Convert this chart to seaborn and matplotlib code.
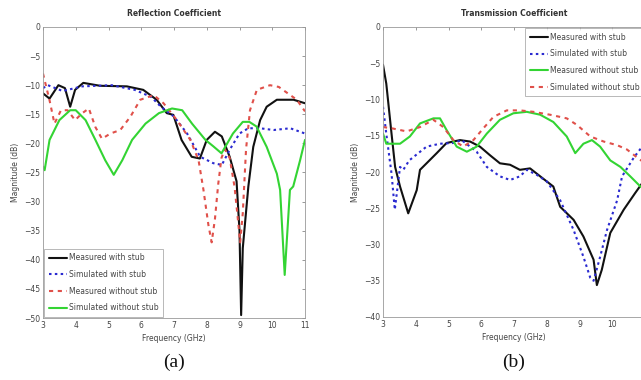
import numpy as np
import pandas as pd
import matplotlib
matplotlib.use("Agg")
import matplotlib.pyplot as plt
import seaborn as sns

# ---------------- data: (a) Reflection coefficient ----------------
a_meas_stub_x = [3.0, 3.2, 3.47, 3.67, 3.83, 3.98, 4.23, 4.74, 5.56, 6.06, 6.47, 6.78, 6.98, 7.23,
                 7.54, 7.79, 8.0, 8.25, 8.46, 8.7, 8.91, 9.0, 9.05, 9.1, 9.27, 9.42, 9.63, 9.83,
                 10.14, 10.65, 11.0]
a_meas_stub_y = [-11.4, -12.3, -10.0, -10.5, -13.7, -10.8, -9.6, -10.1, -10.2, -10.8, -12.5, -14.8,
                 -15.1, -19.4, -22.3, -22.6, -19.4, -18.0, -18.8, -22.3, -26.5, -35.0, -49.5, -38.0,
                 -27.4, -20.6, -16.0, -13.7, -12.5, -12.5, -13.1]

a_sim_stub_x = [3.0, 3.15, 3.6, 4.2, 5.1, 5.8, 6.3, 6.6, 7.0, 7.4, 7.8, 8.2, 8.46, 8.7, 9.0, 9.27,
                9.63, 10.04, 10.55, 11.0]
a_sim_stub_y = [-10.5, -10.0, -11.0, -10.2, -10.0, -10.8, -12.0, -13.7, -15.4, -18.3, -22.3, -23.4,
                -23.7, -21.1, -18.3, -17.4, -17.4, -17.7, -17.4, -18.3]

a_meas_nostub_x = [3.0, 3.2, 3.35, 3.55, 3.75, 3.98, 4.2, 4.4, 4.6, 4.8, 5.06, 5.36, 5.67, 5.97,
                   6.38, 6.68, 7.09, 7.5, 7.75, 7.9, 8.05, 8.15, 8.25, 8.35, 8.45, 8.55, 8.7, 8.85,
                   8.95, 9.02, 9.1, 9.2, 9.32, 9.53, 9.93, 10.2, 10.5, 10.75, 11.0]
a_meas_nostub_y = [-8.0, -12.6, -16.6, -14.3, -14.3, -16.0, -14.8, -14.0, -17.2, -19.2, -18.3,
                   -17.7, -15.4, -12.5, -11.7, -13.1, -16.0, -19.4, -22.9, -28.0, -34.0, -37.0,
                   -33.0, -27.0, -22.5, -21.0, -22.5, -27.5, -33.0, -37.0, -32.0, -21.0, -14.3,
                   -10.8, -10.0, -10.3, -11.5, -12.5, -14.5]

a_sim_nostub_x = [3.0, 3.05, 3.2, 3.5, 3.83, 4.0, 4.3, 4.6, 4.9, 5.16, 5.42, 5.72, 6.13, 6.54,
                  6.94, 7.25, 7.55, 7.96, 8.2, 8.45, 8.8, 9.1, 9.3, 9.52, 9.83, 10.14, 10.24,
                  10.38, 10.54, 10.64, 10.85, 11.0]
a_sim_nostub_y = [-24.0, -24.6, -19.4, -16.0, -14.3, -14.3, -16.0, -19.4, -22.9, -25.4, -22.9,
                  -19.4, -16.6, -14.8, -14.0, -14.3, -16.6, -19.4, -20.5, -21.7, -18.3, -16.3,
                  -16.3, -17.1, -20.6, -25.2, -28.0, -42.6, -28.0, -27.4, -22.9, -19.4]

# ---------------- data: (b) Transmission coefficient ----------------
b_meas_stub_x = [3.0, 3.1, 3.26, 3.37, 3.52, 3.77, 4.03, 4.13, 4.33, 4.64, 4.94, 5.35, 5.66, 5.96,
                 6.27, 6.57, 6.88, 7.18, 7.49, 7.8, 8.2, 8.41, 8.82, 9.12, 9.43, 9.53, 9.68, 9.94,
                 10.35, 10.7, 11.0]
b_meas_stub_y = [-5.2, -7.8, -14.7, -19.3, -22.0, -25.7, -22.5, -19.7, -18.8, -17.4, -16.0, -15.6,
                 -15.8, -16.5, -17.7, -18.8, -19.0, -19.7, -19.5, -20.6, -22.0, -24.8, -26.6,
                 -28.9, -32.1, -35.6, -33.5, -28.4, -25.2, -22.9, -21.0]

b_sim_stub_x = [3.0, 3.1, 3.26, 3.36, 3.52, 3.62, 3.8, 4.33, 4.74, 5.15, 5.4, 5.86, 6.17, 6.57,
                6.88, 7.18, 7.39, 7.7, 8.0, 8.41, 8.82, 9.12, 9.33, 9.43, 9.63, 9.84, 10.15, 10.3,
                10.66, 11.0]
b_sim_stub_y = [-11.0, -14.7, -20.2, -25.2, -19.3, -19.7, -18.4, -16.5, -16.1, -16.0, -15.6,
                -17.2, -19.3, -20.6, -21.1, -20.6, -19.7, -20.4, -21.3, -23.9, -28.0, -31.7,
                -34.6, -35.0, -31.7, -28.0, -23.9, -20.6, -18.0, -16.0]

b_meas_nostub_x = [3.0, 3.1, 3.52, 3.82, 4.13, 4.54, 4.74, 4.94, 5.25, 5.56, 5.86, 6.17, 6.57,
                   6.98, 7.39, 7.8, 8.2, 8.61, 8.87, 9.12, 9.38, 9.63, 9.94, 10.25, 10.55, 10.86,
                   11.0]
b_meas_nostub_y = [-14.7, -16.1, -16.1, -15.1, -13.3, -12.6, -12.6, -14.2, -16.5, -17.2, -16.5,
                   -14.7, -12.8, -11.9, -11.7, -12.1, -13.1, -15.1, -17.4, -16.1, -15.6, -16.5,
                   -18.4, -19.3, -20.6, -22.0, -22.5]

b_sim_nostub_x = [3.0, 3.3, 3.72, 4.13, 4.54, 4.84, 5.15, 5.45, 5.76, 6.06, 6.37, 6.78, 7.18,
                  7.59, 8.1, 8.61, 8.92, 9.33, 9.74, 10.15, 10.45, 10.76, 11.0]
b_sim_nostub_y = [-13.8, -14.0, -14.4, -13.8, -12.8, -13.8, -15.6, -16.5, -15.6, -14.0, -12.4,
                  -11.5, -11.5, -11.7, -12.1, -12.6, -13.5, -15.1, -15.8, -16.3, -16.9, -18.0,
                  -18.8]

labels_a = ["Measured with stub", "Simulated with stub", "Measured without stub", "Simulated without stub"]
labels_b = ["Measured with stub", "Simulated with stub", "Measured without stub", "Simulated without stub"]

BLACK, BLUE, RED, GREEN = "#111111", "#2a2ad0", "#e0504a", "#33d433"


def long_df(series):
    frames = []
    for name, xs, ys in series:
        frames.append(pd.DataFrame({"freq": xs, "mag": ys, "series": name}))
    return pd.concat(frames, ignore_index=True)


df_a = long_df([(labels_a[0], a_meas_stub_x, a_meas_stub_y),
                (labels_a[1], a_sim_stub_x, a_sim_stub_y),
                (labels_a[2], a_meas_nostub_x, a_meas_nostub_y),
                (labels_a[3], a_sim_nostub_x, a_sim_nostub_y)])
df_b = long_df([(labels_b[0], b_meas_stub_x, b_meas_stub_y),
                (labels_b[1], b_sim_stub_x, b_sim_stub_y),
                (labels_b[2], b_meas_nostub_x, b_meas_nostub_y),
                (labels_b[3], b_sim_nostub_x, b_sim_nostub_y)])

pal_a = {labels_a[0]: BLACK, labels_a[1]: BLUE, labels_a[2]: RED, labels_a[3]: GREEN}
dash_a = {labels_a[0]: "", labels_a[1]: (1.2, 1.6), labels_a[2]: (2.0, 2.2), labels_a[3]: ""}
pal_b = {labels_b[0]: BLACK, labels_b[1]: BLUE, labels_b[2]: GREEN, labels_b[3]: RED}
dash_b = {labels_b[0]: "", labels_b[1]: (1.2, 1.6), labels_b[2]: "", labels_b[3]: (2.0, 2.2)}

sns.set_theme(style="white")
plt.rcParams["font.family"] = ["DejaVu Sans"]
TXT = "#444444"

fig = plt.figure(figsize=(6.41, 3.80), dpi=100)
fig.patch.set_facecolor("white")
ax_a = fig.add_axes([43 / 641, 62 / 380, 262 / 641, 291 / 380])
ax_b = fig.add_axes([383 / 641, 63 / 380, 262 / 641, 290 / 380])

panels = [
    (ax_a, df_a, pal_a, dash_a, labels_a, "Reflection Coefficient", (-50, 0), "lower left", "(a)"),
    (ax_b, df_b, pal_b, dash_b, labels_b, "Transmission Coefficient", (-40, 0), "upper right", "(b)"),
]

for ax, df, pal, dsh, labs, title, ylim, loc, tag in panels:
    sns.lineplot(data=df, x="freq", y="mag", hue="series", style="series",
                 hue_order=labs, style_order=labs, palette=pal, dashes=dsh,
                 estimator=None, sort=False, linewidth=1.5, ax=ax)
    ax.set_xlim(3, 11)
    ax.set_ylim(*ylim)
    ax.set_xticks(range(3, 12))
    ax.set_yticks(range(ylim[0], 1, 5))
    ax.tick_params(direction="in", length=2.5, width=0.6, labelsize=5.5, colors="#888888",
                   labelcolor=TXT, top=True, right=True, pad=2)
    for s in ax.spines.values():
        s.set_color("#999999")
        s.set_linewidth(0.6)
    ax.set_title(title, fontsize=5.5, fontweight="bold", color="#333333", pad=8)
    ax.set_xlabel("Frequency (GHz)", fontsize=5.5, color=TXT, labelpad=3)
    ax.set_ylabel("Magnitude (dB)", fontsize=5.5, color=TXT, labelpad=3)
    leg = ax.legend(loc=loc, fontsize=5.5, frameon=True, fancybox=False,
                    borderpad=0.6, labelspacing=1.0, handlelength=2.4, handletextpad=0.2,
                    borderaxespad=0.15)
    leg.get_frame().set_edgecolor("#999999")
    leg.get_frame().set_linewidth(0.6)
    for t in leg.get_texts():
        t.set_color(TXT)
    pos = ax.get_position()
    fig.text(pos.x0 + pos.width / 2 if tag == "(a)" else 514 / 641, 1 - 362 / 380, tag,
             ha="center", va="center", fontsize=14, family="Liberation Serif", color="#111111")

fig.savefig("out.png", dpi=100, facecolor="white")
